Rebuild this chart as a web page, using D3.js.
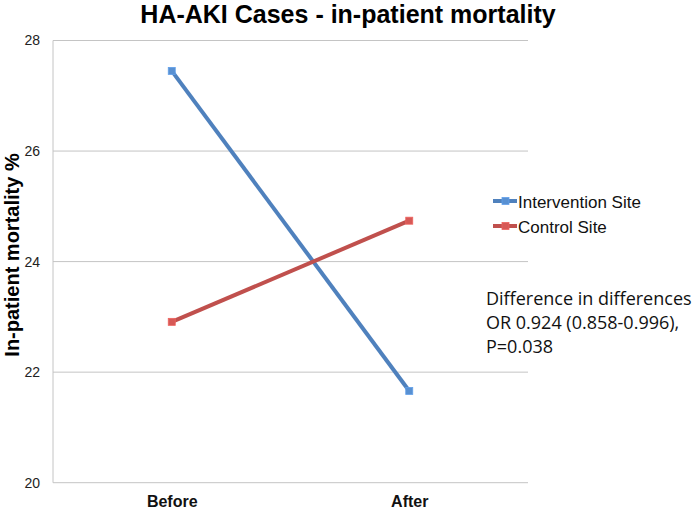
<!DOCTYPE html>
<html lang="en">
<head>
    <meta charset="UTF-8">
    <title>HA-AKI Cases - in-patient mortality</title>
    <script src="https://cdnjs.cloudflare.com/ajax/libs/d3/7.8.5/d3.min.js"></script>
    <style>
        body { margin: 0; background: #fff; }
        text { font-family: "Liberation Sans", Arial, sans-serif; }
        .grid line { stroke: #c4c4c4; stroke-width: 1; }
        .note { font-family: "Open Sans", "Noto Sans", sans-serif; font-size: 18px; fill: #111; }
    </style>
</head>
<body>
    <div id="chart"></div>
    <script>
        // data
        const periods = ["Before", "After"];
        const intervention = [27.45, 21.66];
        const control = [22.91, 24.74];
        const yTicks = [20, 22, 24, 26, 28];
        const seriesNames = ["Intervention Site", "Control Site"];
        const seriesColors = ["#4f81bd", "#c0504d"];
        const noteLines = ["Difference in differences", "OR 0.924 (0.858-0.996),", "P=0.038"];

        const width = 700, height = 511;
        const margin = { left: 53, right: 172, top: 40.5, bottom: 28.3 };

        const svg = d3.select("#chart").append("svg")
            .attr("width", width)
            .attr("height", height);

        const x = d3.scalePoint()
            .domain(periods)
            .range([margin.left, width - margin.right])
            .padding(0.5);

        const y = d3.scaleLinear()
            .domain([20, 28])
            .range([height - margin.bottom, margin.top]);

        // gridlines
        svg.append("g")
            .attr("class", "grid")
            .selectAll("line")
            .data(yTicks)
            .enter()
            .append("line")
            .attr("x1", margin.left)
            .attr("x2", width - margin.right)
            .attr("y1", d => y(d))
            .attr("y2", d => y(d));

        // left axis line
        svg.append("line")
            .attr("x1", margin.left).attr("x2", margin.left)
            .attr("y1", y(20)).attr("y2", y(28))
            .attr("stroke", "#c4c4c4");

        // y tick labels
        const yAxis = svg.append("g")
            .attr("transform", `translate(${margin.left},0)`)
            .call(d3.axisLeft(y).tickValues(yTicks).tickSize(0).tickPadding(13));
        yAxis.select(".domain").remove();
        yAxis.selectAll("text")
            .style("font-size", "14px")
            .style("font-family", "Liberation Sans, Arial, sans-serif")
            .attr("fill", "#222");

        // x labels
        const xAxis = svg.append("g")
            .attr("transform", `translate(0,${y(20)})`)
            .call(d3.axisBottom(x).tickSize(0).tickPadding(13));
        xAxis.select(".domain").remove();
        xAxis.selectAll("text")
            .style("font-size", "16px")
            .style("font-weight", "bold")
            .style("font-family", "Liberation Sans, Arial, sans-serif")
            .attr("fill", "#111");

        // title
        svg.append("text")
            .attr("x", 348)
            .attr("y", 23)
            .attr("text-anchor", "middle")
            .style("font-size", "25px")
            .style("font-weight", "bold")
            .text("HA-AKI Cases - in-patient mortality");

        // y axis title
        svg.append("text")
            .attr("transform", "translate(19,255) rotate(-90)")
            .attr("text-anchor", "middle")
            .style("font-size", "20px")
            .style("font-weight", "bold")
            .text("In-patient mortality %");

        // series
        const series = [intervention, control];
        const line = d3.line()
            .x((d, i) => x(periods[i]))
            .y(d => y(d));

        series.forEach((vals, s) => {
            svg.append("path")
                .datum(vals)
                .attr("fill", "none")
                .attr("stroke", seriesColors[s])
                .attr("stroke-width", 4)
                .attr("d", line);

            svg.selectAll(".m" + s)
                .data(vals)
                .enter()
                .append("rect")
                .attr("class", "m" + s)
                .attr("x", (d, i) => x(periods[i]) - 3.5)
                .attr("y", d => y(d) - 3.5)
                .attr("width", 7)
                .attr("height", 7)
                .attr("fill", d3.color(seriesColors[s]).brighter(0.3))
                .attr("stroke", d3.color(seriesColors[s]).brighter(0.6))
                .attr("stroke-width", 0.8);
        });

        // legend
        const legend = svg.append("g");
        seriesNames.forEach((name, s) => {
            const ly = 201 + s * 25;
            legend.append("line")
                .attr("x1", 493).attr("x2", 517)
                .attr("y1", ly).attr("y2", ly)
                .attr("stroke", seriesColors[s])
                .attr("stroke-width", 4);
            legend.append("rect")
                .attr("x", 502).attr("y", ly - 3.5)
                .attr("width", 7).attr("height", 7)
                .attr("fill", d3.color(seriesColors[s]).brighter(0.3))
                .attr("stroke", d3.color(seriesColors[s]).brighter(0.6))
                .attr("stroke-width", 0.8);
            legend.append("text")
                .attr("x", 518)
                .attr("y", ly + 6.5)
                .style("font-size", "17px")
                .attr("fill", "#111")
                .text(name);
        });

        // annotation
        svg.append("text")
            .attr("class", "note")
            .selectAll("tspan")
            .data(noteLines)
            .enter()
            .append("tspan")
            .attr("x", 486)
            .attr("y", (d, i) => 305 + i * 24)
            .text(d => d);
    </script>
</body>
</html>
